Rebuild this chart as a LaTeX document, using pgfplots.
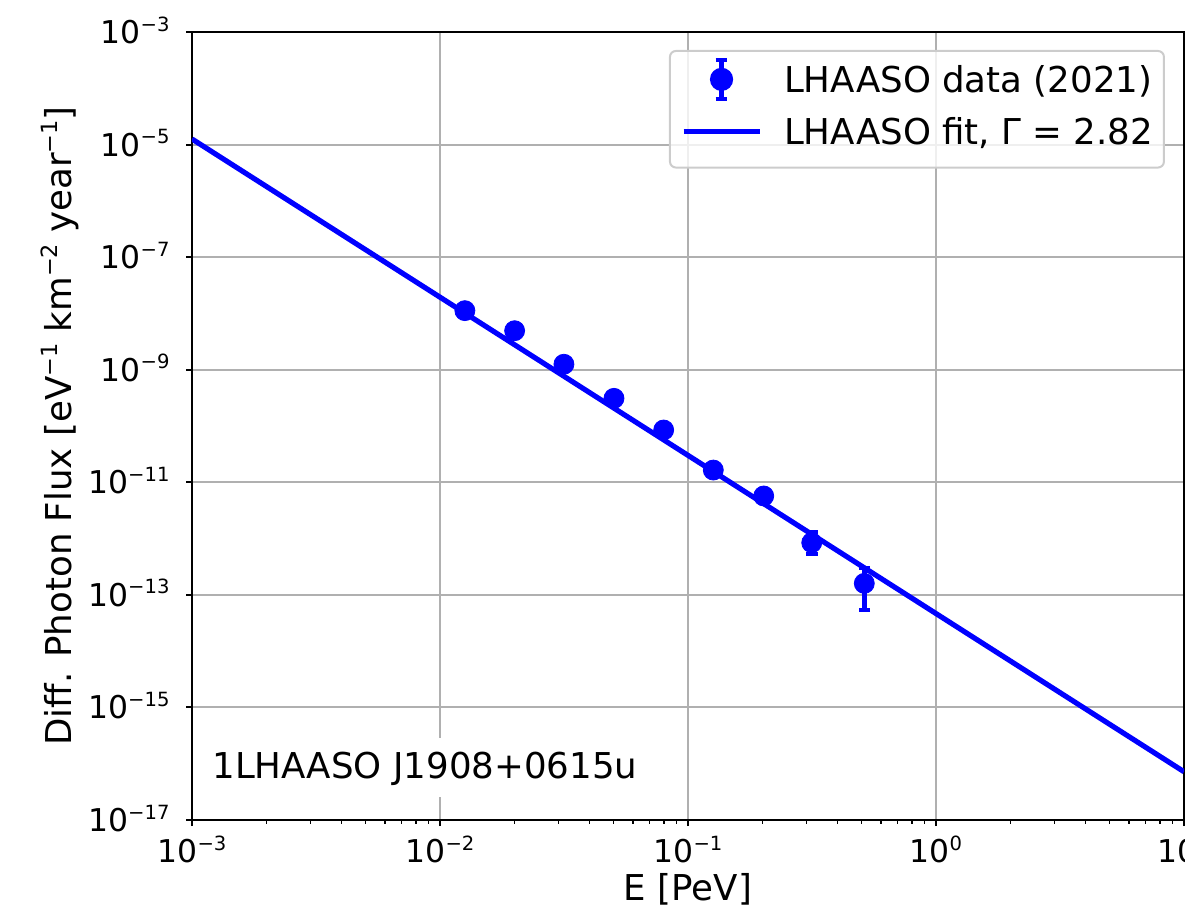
\documentclass[border=0pt]{standalone}
\usepackage{fontspec}
\setmainfont{DejaVu Sans}
\usepackage{pgfplots}
\usepackage{pgfplotstable}
\pgfplotsset{compat=1.18}
\definecolor{gridgray}{HTML}{B0B0B0}
\definecolor{legedge}{HTML}{CCCCCC}
\newcommand\tl[1]{10\raisebox{6.2pt}{\fontsize{9.8}{9.8}\selectfont #1}}
\newcommand\ls[1]{\raisebox{7.1pt}{\fontsize{11.2}{11.2}\selectfont #1}}
\pgfplotstableread{
x y ep em
0.0126 1.12e-8 0.8e-9 0.8e-9
0.0200 4.93e-9 0.35e-9 0.35e-9
0.0316 1.25e-9 0.9e-10 0.9e-10
0.0503 3.10e-10 0.25e-10 0.25e-10
0.0798 8.49e-11 0.7e-11 0.7e-11
0.1265 1.65e-11 0.15e-11 0.15e-11
0.2020 5.71e-12 0.6e-12 0.6e-12
0.3155 8.45e-13 4.65e-13 3.13e-13
0.514 1.60e-13 1.40e-13 1.06e-13
}\lhaaso
\pgfplotstableread{
x y
0.001 1.256e-5
10 7.21e-17
}\fitline
\begin{document}
\begin{tikzpicture}
\useasboundingbox (-96pt,-44pt) rectangle (496.5pt,410pt);
\clip (-96pt,-44pt) rectangle (496.5pt,410pt);
\begin{axis}[
  at={(0,0)}, anchor=south west,
  scale only axis, width=496pt, height=394pt,
  xmode=log, ymode=log,
  xmin=1e-3, xmax=10, ymin=1e-17, ymax=1e-3,
  xtick={1e-3,1e-2,1e-1,1,10},
  xticklabels={\tl{−3},\tl{−2},\tl{−1},\tl{0},\tl{1}},
  ytick={1e-17,1e-15,1e-13,1e-11,1e-9,1e-7,1e-5,1e-3},
  yticklabels={\tl{−17},\tl{−15},\tl{−13},\tl{−11},\tl{−9},\tl{−7},\tl{−5},\tl{−3}},
  yminorticks=false,
  grid=major,
  major grid style={gridgray, line width=1pt},
  axis line style={black, line width=1pt},
  major tick style={black, line width=1pt},
  minor tick style={black, line width=0.75pt},
  major tick length=3pt, minor tick length=1.75pt,
  tick align=outside,
  tick pos=left,
  ticklabel style={font=\fontsize{15.7}{16}\selectfont},
  xticklabel style={anchor=base, inner sep=0pt, yshift=-18.35pt},
  yticklabel style={anchor=base east, inner sep=0pt, yshift=-5.75pt, xshift=-8pt},
  label style={font=\fontsize{17.8}{22}\selectfont},
  xlabel={E [PeV]},
  ylabel={Diff. Photon Flux [eV\ls{−1} km\ls{−2} year\ls{−1}]},
  xlabel style={at={(axis description cs:0.5,-0.1023)}, anchor=base, inner sep=0pt},
  ylabel style={at={(axis description cs:-0.12097,0.5)}, anchor=base, inner sep=0pt},
  legend style={at={(0.9808,0.9772)}, anchor=north east, draw=legedge, line width=1pt,
    fill=white, fill opacity=0.8, text opacity=1, rounded corners=3pt,
    inner xsep=5.5pt, inner ysep=3.15pt, font=\fontsize{17.8}{22}\selectfont,
    row sep=0pt, column sep=11pt,
    nodes={inner sep=0pt, text height=17.7pt, text depth=8.3pt},
    cells={anchor=base west}},
]
\addplot[blue, line width=2.6pt, forget plot] table[x=x,y=y] {\fitline};
\addplot[blue, only marks, mark=*, mark size=5pt, mark options={blue}, forget plot,
  error bars/.cd, y dir=both, y explicit,
  error mark=-,
  error bar style={blue, line width=2.5pt},
  error mark options={rotate=90, blue, line width=2pt, mark size=2.9pt}]
  table[x=x, y=y, y error plus=ep, y error minus=em] {\lhaaso};
\addlegendimage{legend image code/.code={
  \draw[blue, line width=2.5pt, draw opacity=1] (19pt,-3.1pt) -- (19pt,16.4pt);
  \draw[blue, line width=2pt, draw opacity=1] (16.1pt,-3.1pt) -- (21.9pt,-3.1pt);
  \draw[blue, line width=2pt, draw opacity=1] (16.1pt,16.4pt) -- (21.9pt,16.4pt);
  \fill[blue, fill opacity=1] (19pt,6.65pt) circle (5.3pt);
}}
\addlegendentry{LHAASO data (2021)}
\addlegendimage{legend image code/.code={
  \draw[blue, line width=2.6pt, draw opacity=1] (0pt,6.65pt) -- (38pt,6.65pt);
}}
\addlegendentry{LHAASO fit, Γ = 2.82}
\node[anchor=base west, fill=white, inner xsep=5.5pt, inner ysep=0pt, text height=20pt, text depth=9.5pt,
  font=\fontsize{17.8}{22}\selectfont] at (rel axis cs:0.00907,0.0533) {1LHAASO J1908+0615u};
\end{axis}
\end{tikzpicture}
\end{document}
